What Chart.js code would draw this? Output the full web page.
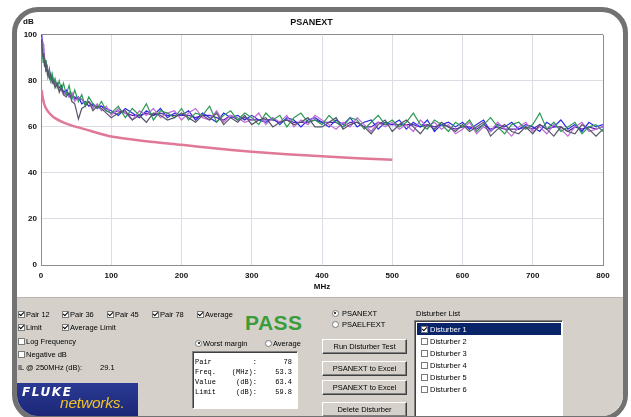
<!DOCTYPE html>
<html>
<head>
<meta charset="utf-8">
<title>PSANEXT</title>
<script src="https://cdn.jsdelivr.net/npm/chart.js@4.4.1/dist/chart.umd.min.js"></script>
<style>
  html, body { margin: 0; padding: 0; background: #ffffff; }
  body { width: 631px; height: 417px; overflow: hidden; position: relative;
         font-family: "Liberation Sans", Arial, sans-serif; }
  #frame { position: absolute; left: 12px; top: 7px; width: 606px; height: 404px;
           border: 5px solid #727272; border-radius: 26px; overflow: hidden; background: #ffffff; }
  #plotWrap { position: absolute; left: 0; top: 0; width: 606px; height: 285px; }
  #panel { position: absolute; left: 0; top: 285px; width: 606px; height: 140px;
           background: #d5d1ca; border-top: 1px solid #b9b5ae; }
  .t { position: absolute; font-size: 7.5px; line-height: 9px; color: #000; white-space: nowrap; }
  .cb { position: absolute; width: 5px; height: 5px; border: 1px solid #7a7a7a; background: #fff; }
  .cb.on::after { content: ""; position: absolute; left: 1px; top: -1px; width: 2px; height: 4px;
                  border: solid #000; border-width: 0 1px 1px 0; transform: rotate(45deg); }
  .rb { position: absolute; width: 5px; height: 5px; border: 1px solid #7a7a7a; border-radius: 50%; background: #fff; }
  .rb.on::after { content: ""; position: absolute; left: 1.5px; top: 1.5px; width: 2px; height: 2px;
                  border-radius: 50%; background: #000; }
  .btn { position: absolute; width: 83px; height: 13px; background: #d5d1ca;
         border-top: 1px solid #ffffff; border-left: 1px solid #ffffff;
         border-right: 1px solid #404040; border-bottom: 1px solid #404040;
         box-shadow: inset -1px -1px 0 #808080;
         font-size: 7.5px; line-height: 13px; text-align: center; color: #000; white-space: nowrap; }
  .sunken { position: absolute; background: #ffffff;
            border-top: 1px solid #808080; border-left: 1px solid #808080;
            border-right: 1px solid #ffffff; border-bottom: 1px solid #ffffff;
            box-shadow: inset 1px 1px 0 #404040; }
  .mono { position: absolute; font-family: "Liberation Mono", "DejaVu Sans Mono", monospace;
          font-size: 7px; line-height: 8px; color: #000; white-space: nowrap; }
  #pass { position: absolute; left: 228px; top: 300px; font-size: 21px; line-height: 21px;
          font-weight: bold; color: #3a9c3a; letter-spacing: 0.5px; }
  #logo { position: absolute; left: 0; top: 371px; width: 121px; height: 50px;
          background: linear-gradient(180deg, #2a3a94 0%, #141d66 100%); overflow: hidden; }
  #fluke { position: absolute; left: 5px; top: 2px; font-family: "DejaVu Sans", sans-serif;
           font-size: 12px; font-weight: bold; font-style: italic; color: #ffffff; letter-spacing: 1.6px; }
  #networks { position: absolute; left: 43px; top: 11px; font-size: 15.5px; font-style: italic;
              color: #f0c22a; letter-spacing: -0.2px; }
  #dbLabel { position: absolute; left: 6px; top: 5px; font-size: 8px; line-height: 10px;
             font-weight: bold; color: #111; }
  .item { position: absolute; left: 0; width: 144px; height: 12px; }
  .item .t { top: 1.5px; left: 13px; }
  .item .cb { top: 2.5px; left: 4px; }
  .item.sel { background: #0a246a; }
  .item.sel .t { color: #ffffff; }
</style>
</head>
<body>
<div id="frame">
  <div id="plotWrap"><canvas id="plot" width="606" height="285"></canvas></div>
  <div id="dbLabel">dB</div>

  <div id="panel"></div>

  <!-- trace selection -->
  <div class="cb on" style="left:1px;top:298.5px"></div><div class="t" style="left:9px;top:297.5px">Pair 12</div>
  <div class="cb on" style="left:45px;top:298.5px"></div><div class="t" style="left:53px;top:297.5px">Pair 36</div>
  <div class="cb on" style="left:90px;top:298.5px"></div><div class="t" style="left:98px;top:297.5px">Pair 45</div>
  <div class="cb on" style="left:135px;top:298.5px"></div><div class="t" style="left:143px;top:297.5px">Pair 78</div>
  <div class="cb on" style="left:180px;top:298.5px"></div><div class="t" style="left:188px;top:297.5px">Average</div>

  <div class="cb on" style="left:1px;top:311.5px"></div><div class="t" style="left:9px;top:310.5px">Limit</div>
  <div class="cb on" style="left:45px;top:311.5px"></div><div class="t" style="left:53px;top:310.5px">Average Limit</div>

  <div class="cb" style="left:1px;top:325.5px"></div><div class="t" style="left:9px;top:324.5px">Log Frequency</div>
  <div class="cb" style="left:1px;top:338.5px"></div><div class="t" style="left:9px;top:337.5px">Negative dB</div>

  <div class="t" style="left:1px;top:350.5px">IL @ 250MHz (dB):</div>
  <div class="t" style="left:83px;top:350.5px">29.1</div>

  <div id="logo">
    <div id="fluke">FLUKE</div>
    <div id="networks">networks.</div>
  </div>

  <!-- result -->
  <div id="pass">PASS</div>
  <div class="rb on" style="left:178px;top:327.5px"></div><div class="t" style="left:186px;top:326.5px">Worst margin</div>
  <div class="rb" style="left:248px;top:327.5px"></div><div class="t" style="left:256px;top:326.5px">Average</div>

  <div class="sunken" style="left:175px;top:339px;width:104px;height:56px">
    <div class="mono" style="left:2px;top:6px">Pair</div>
    <div class="mono" style="left:28px;top:6px;width:36px;text-align:right">:</div>
    <div class="mono" style="left:64px;top:6px;width:35px;text-align:right">78</div>

    <div class="mono" style="left:2px;top:16px">Freq.</div>
    <div class="mono" style="left:28px;top:16px;width:36px;text-align:right">(MHz):</div>
    <div class="mono" style="left:64px;top:16px;width:35px;text-align:right">53.3</div>

    <div class="mono" style="left:2px;top:26px">Value</div>
    <div class="mono" style="left:28px;top:26px;width:36px;text-align:right">(dB):</div>
    <div class="mono" style="left:64px;top:26px;width:35px;text-align:right">63.4</div>

    <div class="mono" style="left:2px;top:36px">Limit</div>
    <div class="mono" style="left:28px;top:36px;width:36px;text-align:right">(dB):</div>
    <div class="mono" style="left:64px;top:36px;width:35px;text-align:right">59.8</div>
  </div>

  <!-- measurement type and actions -->
  <div class="rb on" style="left:314.5px;top:297.5px"></div><div class="t" style="left:325px;top:296.5px">PSANEXT</div>
  <div class="rb" style="left:314.5px;top:308.5px"></div><div class="t" style="left:325px;top:307.5px">PSAELFEXT</div>

  <div class="btn" style="left:305px;top:327px">Run Disturber Test</div>
  <div class="btn" style="left:305px;top:349px">PSANEXT to Excel</div>
  <div class="btn" style="left:305px;top:368px">PSANEXT to Excel</div>
  <div class="btn" style="left:305px;top:390px">Delete Disturber</div>

  <!-- disturber list -->
  <div class="t" style="left:399px;top:296.5px">Disturber List</div>
  <div class="sunken" style="left:397px;top:308px;width:147px;height:110px">
    <div class="item sel" style="top:2px;left:2px"><div class="cb on"></div><div class="t">Disturber 1</div></div>
    <div class="item" style="top:14px;left:2px"><div class="cb"></div><div class="t">Disturber 2</div></div>
    <div class="item" style="top:26px;left:2px"><div class="cb"></div><div class="t">Disturber 3</div></div>
    <div class="item" style="top:38px;left:2px"><div class="cb"></div><div class="t">Disturber 4</div></div>
    <div class="item" style="top:50px;left:2px"><div class="cb"></div><div class="t">Disturber 5</div></div>
    <div class="item" style="top:62px;left:2px"><div class="cb"></div><div class="t">Disturber 6</div></div>
  </div>
</div>

<script>
// Frequency points of the measured sweep (MHz)
const freqMHz = [
  1, 2, 3, 4, 5, 6, 7, 8, 9, 10,
  12, 14, 16, 18, 20, 23, 26, 29, 32, 36,
  40, 44, 48, 53.3, 58, 63, 68, 74, 80, 86,
  93,
  100, 110, 120, 130, 140, 150, 160, 170, 180, 190,
  200, 210, 220, 230, 240, 250, 260, 270, 280, 290,
  300, 310, 320, 330, 340, 350, 360, 370, 380, 390,
  400, 410, 420, 430, 440, 450, 460, 470, 480, 490,
  500, 510, 520, 530, 540, 550, 560, 570, 580, 590,
  600, 610, 620, 630, 640, 650, 660, 670, 680, 690,
  700, 710, 720, 730, 740, 750, 760, 770, 780, 790,
  800
];

// PSANEXT per pair (dB)
const pair12 = [
  96, 92, 88, 90, 86, 89, 84, 87, 85, 82,
  85, 80, 83, 79, 81, 77, 80, 76, 79, 74,
  78, 72, 76, 71, 74, 69, 73, 70, 68, 71,
  67,
  66, 69, 64, 68, 65, 70, 63, 67, 66, 64,
  68, 63, 66, 65, 69, 62, 65, 67, 63, 66,
  64, 61, 66, 63, 65, 60, 64, 66, 62, 63,
  61, 65, 62, 60, 64, 63, 59, 62, 65, 61,
  63, 60, 62, 66, 61, 59, 63, 61, 58, 62,
  60, 63, 58, 61, 64, 60, 57, 61, 62, 59,
  61, 66, 59, 62, 58, 60, 62, 57, 60, 61,
  58
];
const pair36 = [
  100, 97, 94, 91, 90, 87, 88, 85, 86, 83,
  84, 81, 82, 79, 80, 78, 77, 78, 75, 76,
  73, 74, 72, 73, 70, 71, 69, 70, 68, 69,
  68,
  67, 65, 68, 66, 64, 67, 65, 68, 64, 66,
  65, 67, 63, 66, 64, 62, 66, 64, 65, 63,
  65, 63, 62, 64, 61, 64, 63, 60, 63, 64,
  62, 60, 63, 61, 64, 60, 62, 63, 59, 62,
  61, 63, 59, 62, 60, 63, 58, 61, 62, 60,
  62, 59, 61, 63, 58, 61, 60, 62, 59, 61,
  60, 58, 62, 60, 63, 59, 61, 58, 62, 60,
  61
];
const pair45 = [
  99, 95, 96, 90, 91, 86, 89, 84, 87, 82,
  85, 80, 82, 81, 78, 79, 76, 77, 74, 75,
  73, 75, 71, 73, 72, 70, 71, 68, 70, 67,
  69,
  65, 68, 66, 63, 67, 65, 68, 64, 66, 67,
  63, 66, 68, 64, 63, 67, 62, 65, 64, 62,
  63, 66, 61, 64, 62, 65, 60, 63, 61, 65,
  63, 61, 59, 62, 60, 64, 61, 58, 62, 60,
  62, 59, 61, 58, 63, 60, 62, 59, 61, 57,
  59, 62, 57, 60, 58, 62, 59, 56, 60, 62,
  58, 60, 57, 61, 59, 56, 60, 62, 58, 59,
  60
];
const pair78 = [
  98, 93, 90, 92, 87, 88, 85, 86, 83, 84,
  81, 83, 79, 80, 77, 79, 75, 77, 74, 73,
  75, 71, 70, 63.4, 68, 69, 71, 67, 69, 68,
  66,
  64, 66, 67, 63, 65, 62, 66, 65, 63, 64,
  66, 64, 62, 65, 63, 66, 61, 64, 62, 65,
  61, 63, 64, 60, 62, 63, 61, 62, 64, 60,
  60, 62, 64, 59, 61, 62, 60, 57, 61, 63,
  58, 61, 63, 60, 57, 61, 59, 62, 60, 58,
  61, 58, 60, 62, 56, 59, 61, 58, 57, 60,
  57, 61, 59, 56, 60, 58, 57, 61, 59, 56,
  59
];
const averageDb = [
  98, 94, 92, 91, 88, 87, 86, 85, 85, 83,
  84, 81, 81, 80, 79, 78, 77, 77, 75, 74,
  74, 73, 73, 72, 72, 70, 71, 69, 69, 69,
  67,
  66, 67, 66, 65, 65, 66, 65, 66, 65, 65,
  65, 65, 64, 65, 65, 64, 63, 65, 63, 64,
  63, 63, 63, 63, 62, 63, 62, 62, 62, 63,
  62, 62, 62, 60, 62, 62, 60, 60, 62, 61,
  61, 61, 61, 61, 60, 61, 60, 61, 60, 59,
  60, 60, 59, 61, 59, 60, 59, 59, 59, 60,
  59, 61, 59, 60, 60, 58, 60, 59, 60, 59,
  60
];

// PSANEXT limit line (defined up to 500 MHz)
const limitFreqMHz = [1, 2, 4, 6, 8, 10, 15, 20, 30, 40, 50, 53.3, 70, 100, 150, 200, 250, 300, 350, 400, 450, 500];
const limitDb      = [76, 73.5, 70.5, 68.8, 67.6, 66.7, 65, 63.8, 62.2, 61, 60, 59.8, 58.3, 55.8, 53.8, 52.2, 50.6, 49.2, 48.1, 47.2, 46.4, 45.7];

// Axis ticks
const xTickValues = [0, 100, 200, 300, 400, 500, 600, 700, 800];
const yTickValues = [0, 20, 40, 60, 80, 100];

const pts = (xs, ys) => xs.map((x, i) => ({ x: x, y: ys[i] }));

const traceStyle = (label, values, color) => ({
  label: label,
  data: pts(freqMHz, values),
  borderColor: color,
  borderWidth: 1.2,
  pointRadius: 0,
  tension: 0,
  fill: false
});

const tickFont = { family: "Liberation Sans", size: 8, weight: "bold" };
const frameGrey = "#8c8c8c";
const gridGrey = "#dcdce4";

new Chart(document.getElementById("plot"), {
  type: "line",
  data: {
    datasets: [
      {
        label: "Limit",
        data: pts(limitFreqMHz, limitDb),
        borderColor: "#e07898",
        borderWidth: 2.5,
        pointRadius: 0,
        tension: 0.3,
        fill: false
      },
      traceStyle("Pair 78", pair78, "#55556a"),
      traceStyle("Pair 12", pair12, "#2f9a57"),
      traceStyle("Pair 45", pair45, "#c06ad8"),
      traceStyle("Pair 36", pair36, "#2b2be6"),
      traceStyle("Average", averageDb, "#5a22b0")
    ]
  },
  options: {
    responsive: false,
    animation: false,
    events: [],
    layout: { padding: { left: 3, right: 20, top: 0, bottom: 0 } },
    plugins: {
      legend: { display: false },
      tooltip: { enabled: false },
      title: {
        display: true,
        text: "PSANEXT",
        color: "#111",
        font: { family: "Liberation Sans", size: 9, weight: "bold" },
        padding: { top: 5, bottom: 7 }
      }
    },
    scales: {
      x: {
        type: "linear",
        min: 0,
        max: 800,
        afterBuildTicks: s => { s.ticks = xTickValues.map(v => ({ value: v })); },
        afterFit: s => { s.height = 32; s.paddingLeft = 0; s.paddingRight = 0; },
        grid: {
          color: c => (c.tick && c.tick.value === 800 ? frameGrey : gridGrey),
          drawTicks: false
        },
        border: { color: frameGrey },
        ticks: { padding: 6, color: "#111", font: tickFont, maxRotation: 0, autoSkip: false },
        title: {
          display: true,
          text: "MHz",
          color: "#111",
          font: tickFont,
          padding: { top: 0, bottom: 5 }
        }
      },
      y: {
        min: 0,
        max: 100,
        afterBuildTicks: s => { s.ticks = yTickValues.map(v => ({ value: v })); },
        afterFit: s => { s.width = 21; s.paddingTop = 0; s.paddingBottom = 0; },
        grid: {
          color: c => (c.tick && c.tick.value === 100 ? frameGrey : gridGrey),
          drawTicks: false
        },
        border: { color: frameGrey },
        ticks: { padding: 4, color: "#111", font: tickFont, autoSkip: false }
      }
    }
  }
});
</script>
</body>
</html>
